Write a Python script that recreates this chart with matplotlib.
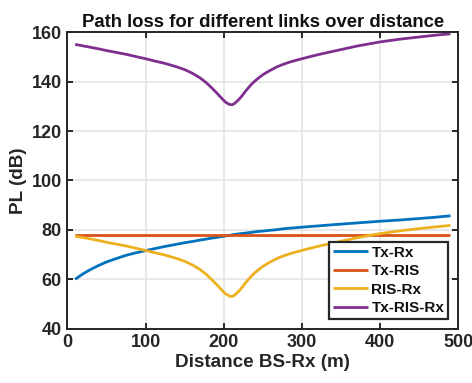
import matplotlib
matplotlib.use("Agg")
import matplotlib.pyplot as plt

plt.rcParams['font.family'] = ['Liberation Sans', 'DejaVu Sans']
plt.rcParams['font.weight'] = 'bold'

# Distance between BS and Rx (m)
distance = [10, 20, 30, 40, 50, 60, 75, 90, 100, 110, 125, 140, 150, 160, 170,
            178, 185, 190, 195, 198, 201, 203, 205, 208, 211, 213, 215, 217,
            220, 224, 228, 232, 236, 240, 245, 250, 255, 262, 268, 275, 285,
            300, 320, 340, 370, 400, 425, 450, 470, 490]

# Path loss per link (dB)
pl_tx_rx = [60.0, 62.2, 64.0, 65.6, 67.0, 68.1, 69.7, 70.9, 71.6, 72.3, 73.3,
            74.2, 74.8, 75.3, 75.9, 76.3, 76.7, 76.9, 77.2, 77.3, 77.5, 77.6,
            77.7, 77.8, 78.0, 78.1, 78.2, 78.3, 78.4, 78.6, 78.7, 78.9, 79.0,
            79.2, 79.4, 79.5, 79.7, 79.9, 80.1, 80.4, 80.7, 81.1, 81.6, 82.1,
            82.8, 83.5, 84.0, 84.6, 85.1, 85.7]
pl_tx_ris = [77.8] * len(distance)
pl_ris_rx = [77.5, 76.9, 76.3, 75.7, 75.0, 74.4, 73.5, 72.4, 71.7, 70.9, 69.8,
             68.4, 67.3, 65.8, 63.9, 61.9, 59.8, 58.2, 56.5, 55.5, 54.5, 54.0,
             53.6, 53.1, 53.1, 53.4, 53.9, 54.5, 55.4, 56.9, 58.6, 60.1, 61.5,
             62.7, 64.0, 65.2, 66.2, 67.4, 68.4, 69.3, 70.4, 71.7, 73.3, 74.7,
             76.8, 78.5, 79.6, 80.5, 81.2, 81.8]
pl_tx_ris_rx = [155.1, 154.5, 153.9, 153.3, 152.6, 152.0, 151.1, 150.0, 149.3,
                148.5, 147.4, 146.0, 144.9, 143.4, 141.5, 139.5, 137.4, 135.8,
                134.1, 133.1, 132.1, 131.6, 131.2, 130.7, 130.7, 131.0, 131.5,
                132.1, 133.0, 134.5, 136.2, 137.7, 139.1, 140.3, 141.6, 142.8,
                143.8, 145.0, 146.0, 146.9, 148.0, 149.3, 150.9, 152.3, 154.4,
                156.1, 157.2, 158.1, 158.8, 159.4]

labels = ['Tx-Rx', 'Tx-RIS', 'RIS-Rx', 'Tx-RIS-Rx']
colors = ['#0072BD', '#D95319', '#EDB120', '#7E2F8E']
x_ticks = [0, 100, 200, 300, 400, 500]
y_ticks = [40, 60, 80, 100, 120, 140, 160]

fig = plt.figure(figsize=(4.72, 3.83), dpi=100)
ax = fig.add_axes([0.1426, 0.1418, 0.8284, 0.7739])

for series, lab, col in zip([pl_tx_rx, pl_tx_ris, pl_ris_rx, pl_tx_ris_rx],
                            labels, colors):
    ax.plot(distance, series, color=col, linewidth=2.0, label=lab,
            solid_joinstyle='round', solid_capstyle='butt')

dark = '#262626'
ax.set_xlim(0, 500)
ax.set_ylim(40, 160)
ax.set_xticks(x_ticks)
ax.set_yticks(y_ticks)
ax.grid(True, color='#e3e3e3', linewidth=1.1)
ax.set_axisbelow(True)
for sp in ax.spines.values():
    sp.set_color(dark)
    sp.set_linewidth(1.4)
ax.tick_params(direction='in', length=4, width=1.4, colors=dark,
               top=True, right=True, labelsize=13, pad=4)
for lbl in ax.get_xticklabels() + ax.get_yticklabels():
    lbl.set_fontweight('bold')

ax.set_title('Path loss for different links over distance', fontsize=13.3,
             fontweight='bold', color='#111111', pad=4)
ax.set_xlabel('Distance BS-Rx (m)', fontsize=13.6, fontweight='bold',
              color=dark, labelpad=2)
ax.set_ylabel('PL (dB)', fontsize=13.6, fontweight='bold', color=dark,
              labelpad=3)

leg = ax.legend(loc='lower right', bbox_to_anchor=(0.974, 0.032),
                borderaxespad=0, fancybox=False, framealpha=1,
                edgecolor=dark, handlelength=2.3,
                handletextpad=0.2, labelspacing=0.3, borderpad=0.25,
                prop={'weight': 'bold', 'size': 11})
leg.get_frame().set_linewidth(1.6)
for t in leg.get_texts():
    t.set_color('#111111')

fig.savefig('out.png', dpi=100)
